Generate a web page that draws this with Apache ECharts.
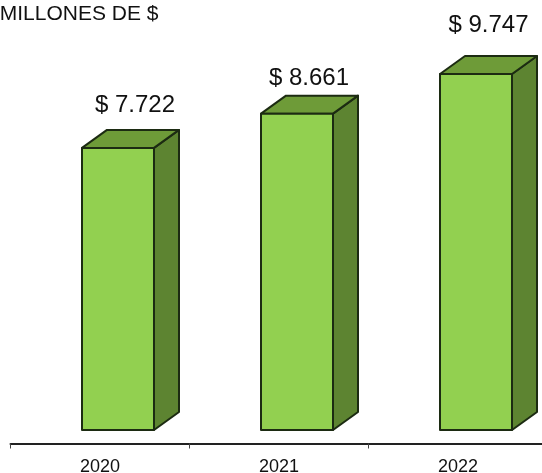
<!DOCTYPE html>
<html>
<head>
<meta charset="utf-8">
<style>html,body{margin:0;padding:0;background:#fff}#c{width:542px;height:473px}</style>
<script src="https://cdn.jsdelivr.net/npm/echarts@6/dist/echarts.min.js"></script>
</head>
<body>
<div id="c"></div>
<script>
const categories = ['2020', '2021', '2022'];
const values = [7722, 8661, 9747];
const valueLabels = ['$ 7.722', '$ 8.661', '$ 9.747'];

const FONT = '"Liberation Sans", Arial, sans-serif';
const EDGE = '#1c2b12';
const labelShift = [[17, -42.5], [12, -35.5], [12.5, -48.5]];
const chart = echarts.init(document.getElementById('c'), null, {renderer: 'canvas'});

function renderItem(params, api) {
  const i = api.value(0);
  const top = api.coord([i, api.value(1)]);
  const base = api.coord([i, 0]);
  const w = api.size([1, 0])[0] * 0.4022;
  const x0 = top[0] + 18 - w / 2;
  const x1 = x0 + w;
  const yT = top[1];
  const yB = base[1];
  const dx = 25, dy = -18;
  const edge = {stroke: EDGE, lineWidth: 2, lineJoin: 'round'};
  const poly = (points, fill) => ({
    type: 'polygon',
    shape: {points},
    style: Object.assign({fill}, edge)
  });
  return {
    type: 'group',
    children: [
      poly([[x1, yT], [x1 + dx, yT + dy], [x1 + dx, yB + dy], [x1, yB]], '#5d8431'),
      poly([[x0, yT], [x0 + dx, yT + dy], [x1 + dx, yT + dy], [x1, yT]], '#6e9b38'),
      poly([[x0, yT], [x1, yT], [x1, yB], [x0, yB]], '#92d050'),
      {
        type: 'text',
        style: {
          x: (x0 + x1) / 2 + labelShift[i][0],
          y: yT + labelShift[i][1],
          text: valueLabels[i],
          fill: '#111',
          font: '24px ' + FONT,
          textAlign: 'center',
          textVerticalAlign: 'middle'
        }
      }
    ]
  };
}

chart.setOption({
  animation: false,
  backgroundColor: '#fff',
  graphic: [{
    type: 'text',
    x: 158.5,
    y: 14.5,
    style: {
      text: 'MILLONES DE $',
      fill: '#111',
      font: '21px ' + FONT,
      textAlign: 'right',
      textVerticalAlign: 'middle'
    }
  }],
  grid: {left: 10.5, width: 537, top: 28.2, height: 415.3, outerBoundsMode: 'none'},
  xAxis: {
    type: 'category',
    data: categories,
    axisLine: {onZero: false, lineStyle: {color: '#222', width: 2}},
    axisTick: {show: true, length: 5, lineStyle: {color: '#444', width: 1}},
    axisLabel: {color: '#111', fontFamily: FONT, fontSize: 18, margin: 15}
  },
  yAxis: {type: 'value', min: -370, max: 11000, show: false, splitLine: {show: false}},
  series: [{
    type: 'custom',
    renderItem,
    clip: false,
    data: categories.map((c, i) => [i, values[i]])
  }]
});
</script>
</body>
</html>
